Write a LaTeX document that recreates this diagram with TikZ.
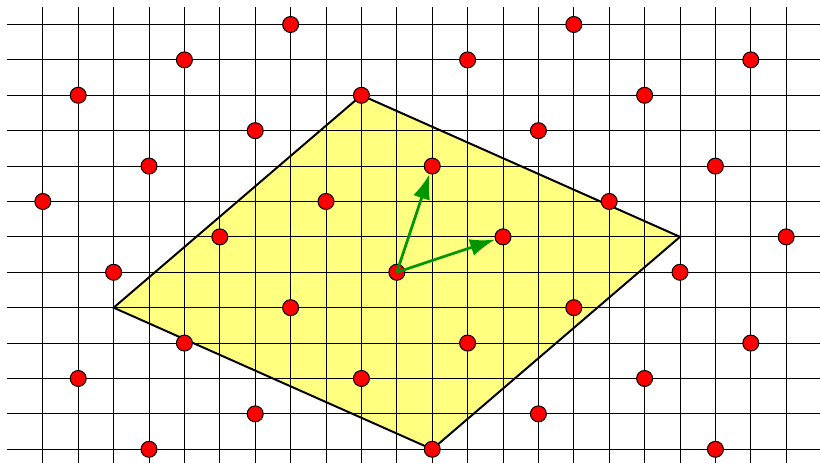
\documentclass[tikz,border=0pt]{standalone}
\usetikzlibrary{arrows.meta}

\definecolor{basisgreen}{RGB}{0,150,0}
\definecolor{cellyellow}{RGB}{255,255,128}

\begin{document}
\begin{tikzpicture}[x=0.5cm,y=0.5cm,>={Latex[length=10pt,width=7pt]},
  dot/.style={circle,draw=black,fill=red,inner sep=0pt,minimum size=0.226cm},
  basisvec/.style={->,line width=1.1pt,basisgreen}]

        \useasboundingbox (-11.21,-5.387) rectangle (11.955,7.692);

        % Corners of the parallelogram
        \coordinate (A) at (-8,-1);
        \coordinate (B) at (1,-5);
        \coordinate (C) at (8,1);
        \coordinate (D) at (-1,5);

        % Fill parallelogram
        \fill[cellyellow] (A) -- (B) -- (C) -- (D) -- cycle;

        % Draw grid
        \foreach \y in {-6,...,7} \draw[thin] (-11,\y) -- (12.5,\y);
        \foreach \x in {-10,...,12} \draw[thin] (\x,7.5) -- (\x,-6);

        % Draw border of parallelogram
        \draw[thick] (A) -- (B) -- (C) -- (D) -- cycle;

        % Lattice points: y = 3x mod 8
        \foreach \x in {-10,...,11}
          \foreach \y in {-6,...,7} {
            \pgfmathtruncatemacro{\r}{mod(\y-3*\x+96,8)}
            \ifnum\r=0 \node[dot] (p\x x\y) at (\x,\y) {}; \fi
          }

        % Basis vectors
        \draw[basisvec] (p0x0.center) -- (p1x3);
        \draw[basisvec] (p0x0.center) -- (p3x1);

\end{tikzpicture}
\end{document}
